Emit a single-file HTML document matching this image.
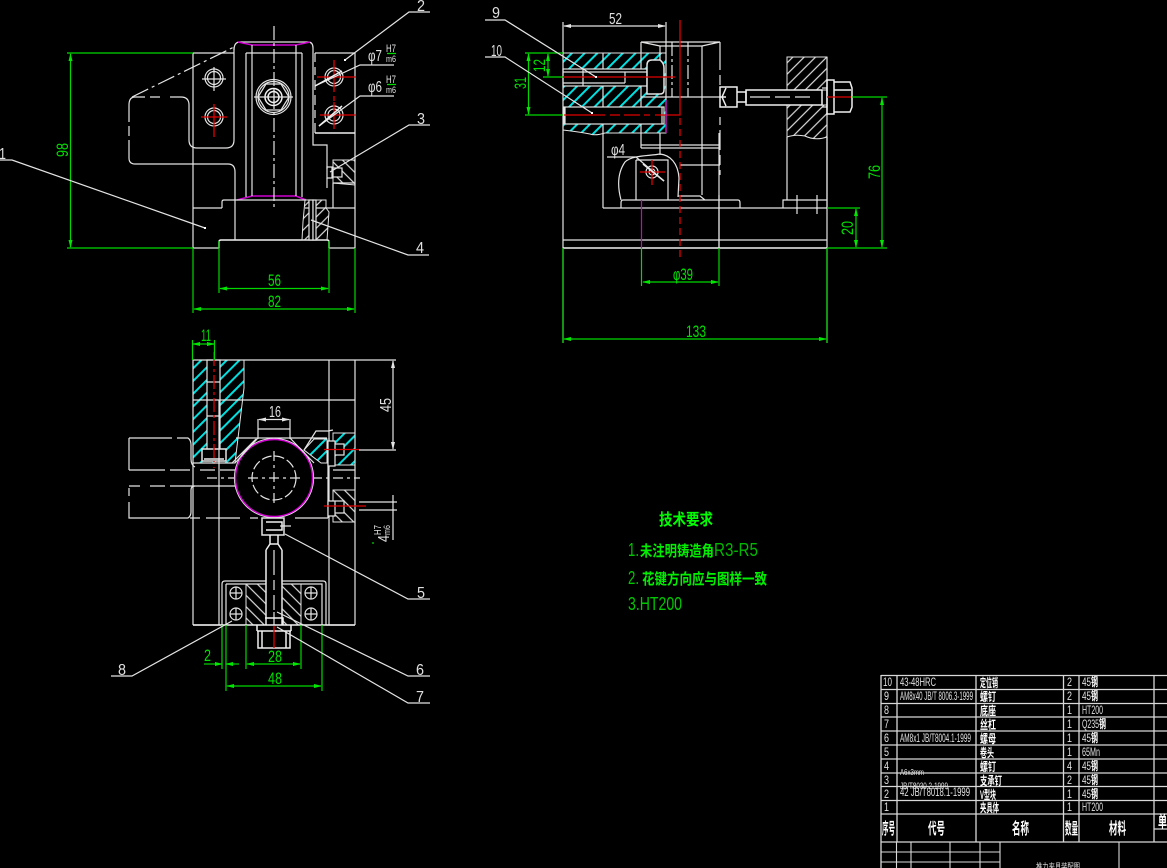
<!DOCTYPE html>
<html><head><meta charset="utf-8"><style>
html,body{margin:0;padding:0;background:#000;overflow:hidden}
svg{display:block}
.w{fill:none;stroke:#e4e4e4;stroke-width:1.2}
.t{fill:none;stroke:#f0f0f0;stroke-width:1.5}
.k{fill:#000;stroke:#e4e4e4;stroke-width:1.2}
.g{fill:none;stroke:#00d800;stroke-width:1.2}
.r{fill:none;stroke:#e00000;stroke-width:1.3}
.m{fill:none;stroke:#d000d0;stroke-width:1.2}
.d{stroke-dasharray:14 3 3 3}
.s{stroke-dasharray:7 4}
.lead{fill:none;stroke:#e4e4e4;stroke-width:1.2}
text{font-family:"Liberation Sans","Noto Sans CJK SC",sans-serif}
.gt{fill:#00e000;font-size:17px}
.wt{fill:#dcdcdc;font-size:17px}
.lt{fill:#e0e0e0;font-size:16px}
.tb{fill:#e0e0e0;font-size:12px}
.tc{fill:#fff;font-size:12px;font-weight:bold}
.th{fill:#fff;font-size:16px;font-weight:bold}
</style></head><body>
<svg width="1167" height="868" viewBox="0 0 1167 868" xmlns="http://www.w3.org/2000/svg">
<defs>
<pattern id="hc" width="9" height="9" patternUnits="userSpaceOnUse" patternTransform="rotate(45)"><line x1="1" y1="0" x2="1" y2="9" stroke="#00e0e0" stroke-width="2"/></pattern>
<pattern id="hw" width="8" height="8" patternUnits="userSpaceOnUse" patternTransform="rotate(45)"><line x1="1" y1="0" x2="1" y2="8" stroke="#dcdcdc" stroke-width="1.200"/></pattern>
<pattern id="hb" width="8" height="8" patternUnits="userSpaceOnUse" patternTransform="rotate(-45)"><line x1="1" y1="0" x2="1" y2="8" stroke="#dcdcdc" stroke-width="1.200"/></pattern>
<marker id="ag" markerWidth="8" markerHeight="4" refX="7" refY="2" orient="auto-start-reverse" markerUnits="userSpaceOnUse"><path d="M0 0L8 2L0 4Z" fill="#00e800"/></marker>
<marker id="aw" markerWidth="8" markerHeight="4" refX="7" refY="2" orient="auto-start-reverse" markerUnits="userSpaceOnUse"><path d="M0 0L8 2L0 4Z" fill="#e4e4e4"/></marker>
</defs>
<rect width="1167" height="868" fill="#000"/>

<!-- VIEW 1 -->
<g>
<path class="w" d="M193 53H234M193 53V248M355 53H315M355 53V248M193 208H222M305 208H355M193 248H219M329 248H355"/>
<path class="t" d="M219 248V242Q219 240 221 240H327Q329 240 329 242V248"/>
<path class="w" d="M235 172V240M235 208V200"/>
<path class="w" d="M234 47V140Q234 148 226 148H197Q189 148 189 140V105Q189 97 181 97H170M160 97H150M145 97H135Q129 97 129 105V122M129 126V136M129 140V158Q129 164 135 164H228Q235 164 235 172"/>
<path class="w" stroke-dasharray="18 4 3 4" d="M132 97L234 47"/>
<path class="w" d="M234 50Q234 42 240 42H308Q313 42 313 48V145H327V169M327 178V188M333 208V183M333 183H355"/>
<path class="m" style="stroke-width:1.600" d="M238 42L252 45H296L310 42M237 200L252 196H296L306 200"/>
<path class="w" d="M246 53H302M246 53V197M302 53V197M252 45V196M296 45V196"/>
<path class="w" d="M222 208V202Q222 200 224 200H306"/>
<path class="w" d="M315 53V62M315 67V75M315 80V90M315 95V105M315 110V118M315 123V133"/>
<path class="t" d="M315 133H355"/>
<path class="w d" d="M274 26V210"/>
<path d="M333 160H355V185L333 183Z" fill="url(#hb)" stroke="#e4e4e4"/>
<rect x="332" y="168" width="10" height="9" class="k"/>
<path class="w" d="M327 167H333V178H327Z"/>
<path d="M305 200H326V208L329 212L327 240H302L303 222Z" fill="url(#hw)" stroke="#e4e4e4"/>
<rect x="309" y="200" width="4" height="40" class="k"/>
<rect x="313" y="200" width="3" height="40" class="k"/>
<circle cx="273.500" cy="97" r="17.500" class="w"/><circle cx="273.500" cy="97" r="15.500" class="w"/>
<polygon class="w" points="258,97 266,84 281,84 289,97 281,110 266,110"/>
<circle cx="273.500" cy="97" r="8.500" class="t"/><circle cx="273.500" cy="97" r="5.500" class="t"/>
<path class="w" d="M254 97H293M274 90V104"/>
<circle cx="214" cy="78" r="9" class="w"/><circle cx="214" cy="78" r="6.500" class="w"/><path class="w" d="M202 79H226M214 67V91"/>
<circle cx="214" cy="117" r="9" class="w"/><circle cx="214" cy="117" r="6.500" class="w"/><path class="r" d="M201 117H227M214 104V137"/>
<circle cx="334" cy="77" r="9" class="w"/><circle cx="334" cy="77" r="6.500" class="w"/><path class="r" d="M317 77H356M334 60V92M334 96V101"/>
<circle cx="334" cy="115" r="9" class="w"/><circle cx="334" cy="115" r="6" class="w"/><path class="r" d="M320 115H356M334 102V129"/>
<path class="g" d="M67 53H193M67 248H193"/>
<path class="g" marker-start="url(#ag)" marker-end="url(#ag)" d="M70.500 54V247"/>
<text class="gt" transform="translate(68,157) rotate(-90)" textLength="14" lengthAdjust="spacingAndGlyphs">98</text>
<path class="g" d="M219 241V293M329 241V293M193 248V313M355 248V313"/>
<path class="g" marker-start="url(#ag)" marker-end="url(#ag)" d="M220 288.500H328"/>
<path class="g" marker-start="url(#ag)" marker-end="url(#ag)" d="M194 309H354"/>
<text class="gt" x="268" y="286" textLength="13" lengthAdjust="spacingAndGlyphs">56</text>
<text class="gt" x="268" y="307" textLength="13" lengthAdjust="spacingAndGlyphs">82</text>
<path class="lead" d="M345 60L409 12H430M315 86L360 65H394M319 126L360 96H394M330 172L409 125H430M311 220L408 255H429M205 228L12 160H0"/>
<path class="t" d="M315 86L342 71M319 126L342 106"/>
<text class="lt" x="417" y="11" textLength="8" lengthAdjust="spacingAndGlyphs">2</text>
<text class="lt" x="417" y="124" textLength="8" lengthAdjust="spacingAndGlyphs">3</text>
<text class="lt" x="416" y="253" textLength="8" lengthAdjust="spacingAndGlyphs">4</text>
<text class="lt" x="-1" y="159" textLength="7" lengthAdjust="spacingAndGlyphs">1</text>
<text class="lt" x="368" y="61" textLength="14" lengthAdjust="spacingAndGlyphs">φ7</text>
<text class="lt" x="368" y="92" textLength="14" lengthAdjust="spacingAndGlyphs">φ6</text>
<text x="386" y="52" fill="#e0e0e0" font-size="11" textLength="10" lengthAdjust="spacingAndGlyphs">H7</text>
<text x="386" y="62" fill="#e0e0e0" font-size="9" textLength="10" lengthAdjust="spacingAndGlyphs">m6</text>
<text x="386" y="83" fill="#e0e0e0" font-size="11" textLength="10" lengthAdjust="spacingAndGlyphs">H7</text>
<text x="386" y="93" fill="#e0e0e0" font-size="9" textLength="10" lengthAdjust="spacingAndGlyphs">m6</text>
<path class="g" d="M387 53.500H396M387 84.500H396"/>
<rect x="204" y="227" width="2" height="2" fill="#fff"/><rect x="344" y="59" width="2" height="2" fill="#fff"/>
</g>

<!-- VIEW 2 -->
<g>
<path d="M563 53H666V133H605Q595 136 590 134Q580 132 563 130Z" fill="url(#hc)" stroke="#e4e4e4"/>
<rect x="563" y="69" width="84" height="17" class="k"/>
<rect x="564" y="107" width="100" height="17" class="k"/>
<path class="w" d="M563 72H647M563 83H625M625 72V83M583 69V86M565 107V124M662 107V124"/>
<path class="w" d="M603 53V69M603 86V107M603 124V133M641 53V69M641 86V107M641 124V133"/>
<path class="w" d="M563 22V248M563 248V343M827 57V343"/>
<path class="w" d="M666 22V133"/>
<path class="w" marker-start="url(#aw)" marker-end="url(#aw)" d="M564 26H665"/>
<path class="t" d="M563 248H827"/><path class="w" d="M563 240H827"/>
<path class="g" d="M563 248V343M827 248V343"/>
<path class="g" marker-start="url(#ag)" marker-end="url(#ag)" d="M564 339H826"/>
<path class="w" d="M603 133V208M603 208H827M641 42V53M641 133V148M660 46V60M660 133V155M702 46V195M720 42V70M720 75V85M720 117V125M720 130V150M720 155V165M720 170V175M719 195V248"/>
<path class="w" d="M641 42H720M641 42L660 46H702L720 42"/>
<path class="w d" d="M672 42V97M688 42V97"/>
<path class="w" d="M641 97H720"/>
<path class="k" style="stroke-width:1.500" d="M647 65Q647 60 652 60H660Q664 63 664 68V90Q664 94 660 94H647Z"/>
<path class="w" d="M641 145H720M641 148H720M680 165H720"/>
<path class="w" d="M621 200C617 185 618 172 625 162C632 155 650 156 660 154C670 155 678 163 679 178L678 197"/>
<path class="w" d="M636 160H668V200M636 160V200"/>
<path class="w" d="M621 208V203Q621 200 623 200H738Q740 200 740 203V208M678 196H700L705 200"/>
<circle cx="652" cy="172" r="6" class="w"/><circle cx="652" cy="172" r="3" class="w"/>
<path class="r" d="M640 172H665M652 160V185"/>
<path class="t" d="M643 164L664 181"/><path class="lead" d="M607 157H636L664 181"/>
<path d="M787 57H827V90H787Z" fill="url(#hw)" stroke="#e4e4e4"/>
<path d="M787 105H827V137Q815 141 805 136Q795 134 787 137Z" fill="url(#hw)" stroke="#e4e4e4"/>
<path class="w" d="M787 137V200M827 137V208M783 208V200H827M797 195V214M817 195V214"/>
<path class="t" d="M746 90H822V105H746Z"/>
<path class="w" d="M822 88H827V107H822"/>
<path class="t" d="M827 80H834V114H827ZM834 82H850L852 88V107L850 112H834ZM834 90H851"/>
<path class="t" d="M720 87H737V107H720ZM737 92H746V102H737ZM726 88L722 97L726 106M720 97H726"/>
<path class="w" d="M750 97H770M775 97H790M795 97H810"/>
<path class="r" d="M827 97H851"/>
<path class="r" d="M563 77H675M564 115H605M610 115H620M624 115H640M644 115H650M655 115H680V20"/>
<path class="r s" d="M680 118V257"/>
<path class="m" d="M641.500 200V248M666 100V133"/>
<path class="w" d="M719 133V248"/>
<path class="g" d="M852 97H887M827 248H887M827 208H860M641.500 248V286M719 248V286M525 53H563M543 77H563M525 115H563"/>
<path class="g" marker-start="url(#ag)" marker-end="url(#ag)" d="M882 98V247"/>
<path class="g" marker-start="url(#ag)" marker-end="url(#ag)" d="M856 209V247"/>
<path class="g" marker-start="url(#ag)" marker-end="url(#ag)" d="M643 282H718"/>
<path class="g" marker-start="url(#ag)" marker-end="url(#ag)" d="M548 54V76"/>
<path class="g" marker-start="url(#ag)" marker-end="url(#ag)" d="M528.500 54V114"/>
<text class="gt" transform="translate(880,179) rotate(-90)" textLength="14" lengthAdjust="spacingAndGlyphs">76</text>
<text class="gt" transform="translate(853,235) rotate(-90)" textLength="14" lengthAdjust="spacingAndGlyphs">20</text>
<text class="gt" transform="translate(545,72) rotate(-90)" textLength="13" lengthAdjust="spacingAndGlyphs">12</text>
<text class="gt" transform="translate(526,89) rotate(-90)" textLength="12" lengthAdjust="spacingAndGlyphs">31</text>
<text class="gt" x="673" y="280" textLength="20" lengthAdjust="spacingAndGlyphs">φ39</text>
<text class="gt" x="686" y="337" textLength="20" lengthAdjust="spacingAndGlyphs">133</text>
<text class="lt" x="609" y="24" textLength="13" lengthAdjust="spacingAndGlyphs">52</text>
<text class="lt" x="611" y="155" textLength="14" lengthAdjust="spacingAndGlyphs">φ4</text>
<path class="lead" d="M596 77L505 20H485M592 113L505 57H485"/>
<text class="lt" x="492" y="18" textLength="8" lengthAdjust="spacingAndGlyphs">9</text>
<text class="lt" x="491" y="56" textLength="11" lengthAdjust="spacingAndGlyphs">10</text>
<rect x="595" y="76" width="2" height="2" fill="#fff"/><rect x="591" y="112" width="2" height="2" fill="#fff"/>
</g>

<!-- VIEW 3 -->
<g>
<path d="M193 360H244V388L235 463H193Z" fill="url(#hc)" stroke="#e4e4e4"/>
<rect x="207" y="360" width="13" height="100" class="k"/>
<path class="w" d="M207 382H220M207 400H220M207 416H220M193 400H207M220 400H355"/>
<rect x="202" y="449" width="24" height="12" class="k" style="stroke-width:1.500"/>
<path class="t" d="M204 459H224"/>
<path class="w" d="M193 360H355M193 360V625M355 360V625M193 625H222M326 625H355M219 400V625M329 360V625"/>
<path class="r" stroke-dasharray="14 3 3 3" d="M214 352V468"/>
<path class="w" d="M236 438H327M193 463H233"/>
<path class="w" d="M129 438H172M177 438H188Q191 440 191 445V459Q191 465 195 467M129 438V470M129 488V496M129 502V518H188Q191 516 191 512V490Q191 486 195 486"/>
<path class="w" d="M129 470H165M170 470H190M200 470H215M220 470H235M129 486H140M150 486H165M170 486H235"/>
<path class="w" d="M190 518H200M206 518H240M250 518H258M295 518H328M329 438V446M328 460V518"/>
<path d="M304 450L314 439H327V463H321Z" fill="url(#hc)" stroke="#e4e4e4"/>
<path class="w" d="M304 450L316 431H328L333 430"/>
<path d="M333 433H355V465H333Z" fill="url(#hc)" stroke="#e4e4e4"/>
<path d="M333 490H355V522H333Z" fill="url(#hb)" stroke="#e4e4e4"/>
<path class="k" d="M328 441H335V466H328ZM335 444H344V455H335ZM328 501H335V516H328ZM335 501H344V513H335Z"/>
<path class="w" d="M333 470H355"/>
<path class="r" d="M324 449.500H359M324 506H366"/>
<path class="w" stroke-dasharray="10 4 3 4" d="M207 478H360"/>
<circle cx="274" cy="478" r="39.500" class="k"/>
<circle cx="274" cy="478" r="38.500" fill="none" stroke="#d000d0" stroke-width="1.500"/>
<circle cx="274" cy="478" r="22" class="w" stroke-dasharray="10 3"/>
<path class="w" d="M274 451V505M248 478H300" stroke-dasharray="10 4 3 4"/>
<path class="w" d="M258 429H290M258 419V439M290 419V439M258 438L235 463M290 438L314 463M256 439L232 463"/>
<path class="w" marker-start="url(#aw)" marker-end="url(#aw)" d="M259 419.500H289"/>
<text class="lt" x="269" y="417" textLength="12" lengthAdjust="spacingAndGlyphs">16</text>
<path class="g" d="M192.500 340V360M214.500 340V360"/>
<path class="g" marker-start="url(#ag)" marker-end="url(#ag)" d="M193 344H214"/>
<text class="gt" x="201" y="341" textLength="10" lengthAdjust="spacingAndGlyphs">11</text>
<path class="w" d="M355 360H396M359 450H396M359 502H397M359 510H397M393 495V540"/>
<path class="w" marker-start="url(#aw)" marker-end="url(#aw)" d="M393 361V449"/>
<text class="lt" transform="translate(391,412) rotate(-90)" textLength="14" lengthAdjust="spacingAndGlyphs">45</text>
<text class="lt" transform="translate(389,542) rotate(-90)" textLength="7" font-size="12" lengthAdjust="spacingAndGlyphs">4</text>
<text fill="#e0e0e0" font-size="10" transform="translate(381,535) rotate(-90)" textLength="10" lengthAdjust="spacingAndGlyphs">H7</text>
<text fill="#e0e0e0" font-size="9" transform="translate(390,535) rotate(-90)" textLength="10" lengthAdjust="spacingAndGlyphs">m6</text>
<path class="g" d="M373 542V544"/>
<rect x="262" y="518" width="22" height="17" class="k" style="stroke-width:1.500"/>
<path class="t" d="M266 522H282V530H266M270 535V544H278V535M266 550L270 544H278L282 550M266 550V625M282 550V625"/>
<path class="w" d="M280 526H291M274 550V575M274 580V590M274 595V610M274 612V625"/>
<path class="w" d="M222 625V584Q222 581 225 581H266M282 581H323Q326 581 326 584V625M226 584V625M226 584H266M282 584H322V625"/>
<path d="M246 584H266V625H246Z" fill="url(#hb)" stroke="#e4e4e4"/>
<path d="M282 584H301V625H282Z" fill="url(#hb)" stroke="#e4e4e4"/>
<g class="w">
<circle cx="236" cy="593" r="6"/><path d="M230 593H242M236 587V599"/>
<circle cx="236" cy="614" r="6"/><path d="M230 614H242M236 608V620"/>
<circle cx="311" cy="593" r="6"/><path d="M305 593H317M311 587V599"/>
<circle cx="311" cy="614" r="6"/><path d="M305 614H317M311 608V620"/>
</g>
<path class="t" d="M258 631H290V648H258ZM262 631V648M286 631V648M257 625V631M291 625V631M257 631H291M265 618H283V625"/>
<path class="t" d="M193 625H355"/>
<path class="r" d="M274 626V648"/>
<path class="g" d="M222 625V669M226 625V691M246 625V669M301 625V669M322 625V691"/>
<path class="g" d="M204 664H214"/>
<path class="g" marker-end="url(#ag)" d="M214 664H222"/><path class="g" marker-start="url(#ag)" d="M226 664H239"/>
<path class="g" marker-start="url(#ag)" marker-end="url(#ag)" d="M247 664H300"/>
<path class="g" marker-start="url(#ag)" marker-end="url(#ag)" d="M227 686H321"/>
<text class="gt" x="204" y="661" textLength="7" lengthAdjust="spacingAndGlyphs">2</text>
<text class="gt" x="268" y="662" textLength="14" lengthAdjust="spacingAndGlyphs">28</text>
<text class="gt" x="268" y="684" textLength="14" lengthAdjust="spacingAndGlyphs">48</text>
<path class="lead" d="M285 534L408 599H430M277 612L408 676H430M277 627L408 703H430M232 621L132 676H111"/>
<text class="lt" x="417" y="598" textLength="8" lengthAdjust="spacingAndGlyphs">5</text>
<text class="lt" x="416" y="675" textLength="8" lengthAdjust="spacingAndGlyphs">6</text>
<text class="lt" x="416" y="702" textLength="8" lengthAdjust="spacingAndGlyphs">7</text>
<text class="lt" x="118" y="675" textLength="8" lengthAdjust="spacingAndGlyphs">8</text>
</g>

<!-- Tech requirements -->
<g fill="#00e000">
<text x="659" y="525" font-size="16" font-weight="bold" fill="#00ff00" textLength="54" lengthAdjust="spacingAndGlyphs">技术要求</text>
<text x="628" y="556" font-size="18" fill="#00c800" textLength="11" lengthAdjust="spacingAndGlyphs">1.</text>
<text x="640" y="556" font-size="15" font-weight="bold" fill="#00f000" textLength="74" lengthAdjust="spacingAndGlyphs">未注明铸造角</text>
<text x="714" y="556" font-size="18" fill="#00b800" textLength="44" lengthAdjust="spacingAndGlyphs">R3-R5</text>
<text x="628" y="584" font-size="18" fill="#00c800" textLength="11" lengthAdjust="spacingAndGlyphs">2.</text>
<text x="642" y="584" font-size="15" font-weight="bold" fill="#00f000" textLength="125" lengthAdjust="spacingAndGlyphs">花键方向应与图样一致</text>
<text x="628" y="610" font-size="18" fill="#00c800" textLength="54" lengthAdjust="spacingAndGlyphs">3.HT200</text>
</g>

<!-- Table -->
<g>
<path fill="none" stroke="#d8d8d8" stroke-width="1.300" d="M881 675.500H1167M881 689.500H1167M881 703.500H1167M881 717H1167M881 731H1167M881 745H1167M881 759H1167M881 773H1167M881 786.500H1167M881 800.500H1167M881 814H1167M881 842H1167M881 675V868M897 675V842M976 675V842M1063.500 675V842M1079 675V842M1154 675V842M1154 829H1167"/>
<path fill="none" stroke="#d8d8d8" stroke-width="1.100" d="M881 852H1000M881 862H1000M896.500 842V868M911 842V868M950 842V868M980 842V868M1000 842V868M1119 842V868"/>
<g class="tb" transform="translate(0,3)">
<text x="883" y="683" textLength="9" lengthAdjust="spacingAndGlyphs">10</text><text x="884" y="697" textLength="5" lengthAdjust="spacingAndGlyphs">9</text><text x="884" y="711" textLength="5" lengthAdjust="spacingAndGlyphs">8</text><text x="884" y="725" textLength="5" lengthAdjust="spacingAndGlyphs">7</text><text x="884" y="739" textLength="5" lengthAdjust="spacingAndGlyphs">6</text><text x="884" y="753" textLength="5" lengthAdjust="spacingAndGlyphs">5</text><text x="884" y="767" textLength="5" lengthAdjust="spacingAndGlyphs">4</text><text x="884" y="781" textLength="5" lengthAdjust="spacingAndGlyphs">3</text><text x="884" y="795" textLength="5" lengthAdjust="spacingAndGlyphs">2</text><text x="884" y="808" textLength="5" lengthAdjust="spacingAndGlyphs">1</text>
<text x="900" y="683" textLength="36" lengthAdjust="spacingAndGlyphs">43-48HRC</text>
<text x="900" y="697" textLength="73" lengthAdjust="spacingAndGlyphs">AM8x40 JB/T 8006.3-1999</text>
<text x="900" y="739" textLength="71" lengthAdjust="spacingAndGlyphs">AM8x1 JB/T8004.1-1999</text>
<text x="900" y="772" font-size="8" textLength="24" lengthAdjust="spacingAndGlyphs">A6x3mm</text>
<text x="900" y="786" font-size="9" textLength="48" lengthAdjust="spacingAndGlyphs">JB/T8030.2-1999</text>
<text x="900" y="793" textLength="70" lengthAdjust="spacingAndGlyphs">42 JB/T8018.1-1999</text>
<text x="1067" y="683" textLength="5" lengthAdjust="spacingAndGlyphs">2</text><text x="1067" y="697" textLength="5" lengthAdjust="spacingAndGlyphs">2</text><text x="1067" y="711" textLength="5" lengthAdjust="spacingAndGlyphs">1</text><text x="1067" y="725" textLength="5" lengthAdjust="spacingAndGlyphs">1</text><text x="1067" y="739" textLength="5" lengthAdjust="spacingAndGlyphs">1</text><text x="1067" y="753" textLength="5" lengthAdjust="spacingAndGlyphs">1</text><text x="1067" y="767" textLength="5" lengthAdjust="spacingAndGlyphs">4</text><text x="1067" y="781" textLength="5" lengthAdjust="spacingAndGlyphs">2</text><text x="1067" y="795" textLength="5" lengthAdjust="spacingAndGlyphs">1</text><text x="1067" y="808" textLength="5" lengthAdjust="spacingAndGlyphs">1</text>
<text x="1082" y="711" textLength="21" lengthAdjust="spacingAndGlyphs">HT200</text>
<text x="1082" y="753" textLength="18" lengthAdjust="spacingAndGlyphs">65Mn</text>
<text x="1082" y="808" textLength="21" lengthAdjust="spacingAndGlyphs">HT200</text>
<text x="1082" y="725" textLength="17" lengthAdjust="spacingAndGlyphs">Q235</text>
<text x="1082" y="683" textLength="9" lengthAdjust="spacingAndGlyphs">45</text><text x="1082" y="697" textLength="9" lengthAdjust="spacingAndGlyphs">45</text><text x="1082" y="739" textLength="9" lengthAdjust="spacingAndGlyphs">45</text><text x="1082" y="767" textLength="9" lengthAdjust="spacingAndGlyphs">45</text><text x="1082" y="781" textLength="9" lengthAdjust="spacingAndGlyphs">45</text><text x="1082" y="795" textLength="9" lengthAdjust="spacingAndGlyphs">45</text>
</g>
<g class="tc">
<text x="980" y="687" textLength="18" lengthAdjust="spacingAndGlyphs">定位销</text>
<text x="980" y="701" textLength="16" lengthAdjust="spacingAndGlyphs">螺钉</text>
<text x="980" y="715" textLength="16" lengthAdjust="spacingAndGlyphs">底座</text>
<text x="980" y="729" textLength="16" lengthAdjust="spacingAndGlyphs">丝杠</text>
<text x="980" y="743" textLength="16" lengthAdjust="spacingAndGlyphs">螺母</text>
<text x="980" y="757" textLength="14" lengthAdjust="spacingAndGlyphs">卷头</text>
<text x="980" y="771" textLength="16" lengthAdjust="spacingAndGlyphs">螺钉</text>
<text x="980" y="785" textLength="22" lengthAdjust="spacingAndGlyphs">支承钉</text>
<text x="980" y="799" textLength="16" lengthAdjust="spacingAndGlyphs">V型块</text>
<text x="980" y="812" textLength="19" lengthAdjust="spacingAndGlyphs">夹具体</text>
<text x="1091" y="686" textLength="7" lengthAdjust="spacingAndGlyphs">钢</text><text x="1091" y="700" textLength="7" lengthAdjust="spacingAndGlyphs">钢</text><text x="1099" y="728" textLength="7" lengthAdjust="spacingAndGlyphs">钢</text><text x="1091" y="742" textLength="7" lengthAdjust="spacingAndGlyphs">钢</text><text x="1091" y="770" textLength="7" lengthAdjust="spacingAndGlyphs">钢</text><text x="1091" y="784" textLength="7" lengthAdjust="spacingAndGlyphs">钢</text><text x="1091" y="798" textLength="7" lengthAdjust="spacingAndGlyphs">钢</text>
</g>
<g class="th">
<text x="882" y="834" textLength="13" lengthAdjust="spacingAndGlyphs">序号</text>
<text x="928" y="834" textLength="17" lengthAdjust="spacingAndGlyphs">代号</text>
<text x="1012" y="834" textLength="17" lengthAdjust="spacingAndGlyphs">名称</text>
<text x="1065" y="834" textLength="13" lengthAdjust="spacingAndGlyphs">数量</text>
<text x="1109" y="834" textLength="17" lengthAdjust="spacingAndGlyphs">材料</text>
<text x="1158" y="827" textLength="9" lengthAdjust="spacingAndGlyphs">单</text>
</g>
<text x="1036" y="870" fill="#e0e0e0" font-size="9" textLength="44" lengthAdjust="spacingAndGlyphs">推力夹具装配图</text>
</g>
</svg>
</body></html>
